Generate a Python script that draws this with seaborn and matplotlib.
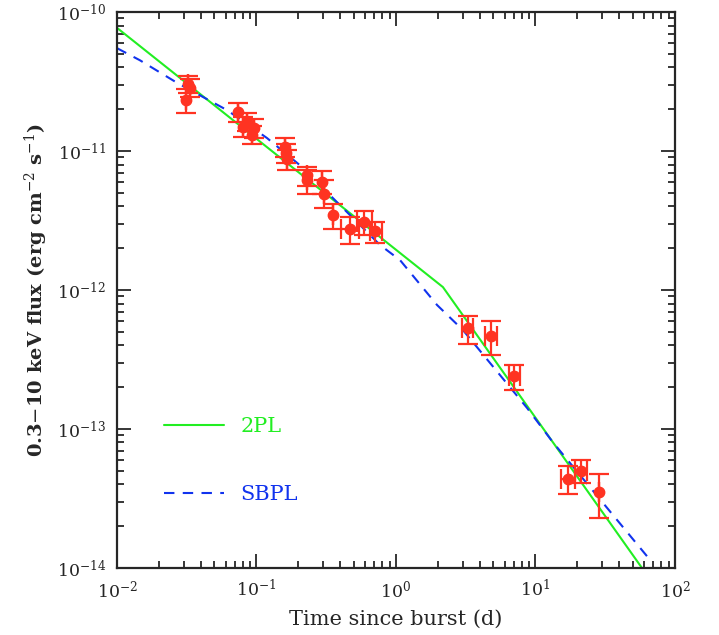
import numpy as np
import seaborn as sns
import matplotlib.pyplot as plt
import pandas as pd

# X-ray light curve points (time in days, flux in erg/cm2/s)
t = [0.0312, 0.0323, 0.0334, 0.0736, 0.080, 0.0855, 0.0929, 0.096,
     0.160, 0.163, 0.165, 0.230, 0.232, 0.295, 0.305, 0.353,
     0.468, 0.590, 0.707, 3.28, 4.80, 7.01, 17.1, 21.2, 28.5]
t_lo = [0.0312, 0.0323, 0.0334, 0.0736, 0.080, 0.0855, 0.0929, 0.096,
        0.160, 0.163, 0.165, 0.230, 0.232, 0.295, 0.305, 0.353,
        0.403, 0.525, 0.651, 2.97, 4.35, 6.46, 15.2, 19.2, 28.5]
t_hi = [0.0312, 0.0323, 0.0334, 0.0736, 0.080, 0.0855, 0.0929, 0.096,
        0.160, 0.163, 0.165, 0.230, 0.232, 0.295, 0.305, 0.353,
        0.543, 0.673, 0.794, 3.56, 5.30, 7.74, 19.2, 23.4, 28.5]
flux = [2.33e-11, 3.03e-11, 2.84e-11, 1.91e-11, 1.49e-11, 1.62e-11, 1.30e-11, 1.47e-11,
        1.07e-11, 9.7e-12, 8.8e-12, 6.7e-12, 6.2e-12, 5.98e-12, 4.9e-12, 3.47e-12,
        2.75e-12, 3.08e-12, 2.66e-12, 5.33e-13, 4.67e-13, 2.41e-13, 4.37e-14, 4.99e-14, 3.52e-14]
flux_lo = [1.88e-11, 2.61e-11, 2.45e-11, 1.62e-11, 1.26e-11, 1.39e-11, 1.12e-11, 1.24e-11,
           9.06e-12, 8.2e-12, 7.3e-12, 5.6e-12, 4.9e-12, 4.9e-12, 3.89e-12, 2.75e-12,
           2.14e-12, 2.49e-12, 2.18e-12, 4.09e-13, 3.40e-13, 1.91e-13, 3.40e-14, 4.09e-14, 2.29e-14]
flux_hi = [2.79e-11, 3.47e-11, 3.30e-11, 2.22e-11, 1.76e-11, 1.88e-11, 1.51e-11, 1.70e-11,
           1.24e-11, 1.12e-11, 1.02e-11, 7.67e-12, 7.3e-12, 7.18e-12, 6.18e-12, 4.16e-12,
           3.35e-12, 3.70e-12, 3.08e-12, 6.50e-13, 5.98e-13, 2.89e-13, 5.42e-14, 5.98e-14, 4.74e-14]

# model curves
pl2_t = [0.01, 2.17, 58.0]
pl2_f = [7.7e-11, 1.05e-12, 1.0e-14]
sbpl_t = [0.01, 0.0146, 0.0269, 0.0615, 0.119, 0.205, 0.768, 1.07, 1.97, 3.02, 8.69, 13.3, 68.4]
sbpl_f = [5.5e-11, 4.5e-11, 3.1e-11, 1.97e-11, 1.24e-11, 7.9e-12, 2.11e-12, 1.64e-12,
          7.8e-13, 5.15e-13, 1.42e-13, 8.05e-14, 1.1e-14]

sns.set_style('ticks')
plt.rcParams['font.family'] = ['DejaVu Serif']
plt.rcParams['mathtext.fontset'] = 'dejavuserif'

fig = plt.figure(figsize=(7.19, 6.35), dpi=100)
ax = fig.add_axes([0.1627, 0.1055, 0.7761, 0.8755])

models = pd.concat([
    pd.DataFrame({'t': pl2_t, 'f': pl2_f, 'model': '2PL'}),
    pd.DataFrame({'t': sbpl_t, 'f': sbpl_f, 'model': 'SBPL'}),
])
sns.lineplot(data=models, x='t', y='f', hue='model', style='model',
             palette={'2PL': '#22ee22', 'SBPL': '#1133ee'},
             dashes={'2PL': '', 'SBPL': (5, 4)}, sort=False, lw=1.5,
             estimator=None, ax=ax)

t_arr = np.array(t)
f_arr = np.array(flux)
xerr = [t_arr - np.array(t_lo), np.array(t_hi) - t_arr]
yerr = [f_arr - np.array(flux_lo), np.array(flux_hi) - f_arr]
ax.errorbar(t_arr, f_arr, xerr=xerr, yerr=yerr, fmt='o', color='#ff3322',
            ms=7.5, elinewidth=1.6, capsize=7, capthick=1.6, zorder=3)

ax.set_xscale('log')
ax.set_yscale('log')
ax.set_xlim(1e-2, 1e2)
ax.set_ylim(1e-14, 1e-10)

ax.set_xlabel('Time since burst (d)', fontsize=15, labelpad=6)
ax.set_ylabel('0.3$-$10 keV flux (erg cm$^{-2}$ s$^{-1}$)', fontsize=14,
              fontweight='bold', labelpad=5)

for s in ax.spines.values():
    s.set_linewidth(1.6)
ax.tick_params(which='both', direction='in', top=True, right=True, labelsize=12.5, width=1.3)
ax.tick_params(which='major', length=10, pad=8)
ax.tick_params(which='minor', length=5)

leg = ax.legend(loc='upper left', bbox_to_anchor=(0.05, 0.305), frameon=False,
                handlelength=2.9, labelspacing=2.35, fontsize=15,
                labelcolor='linecolor', handletextpad=0.8)

plt.savefig('out.png', dpi=100)
